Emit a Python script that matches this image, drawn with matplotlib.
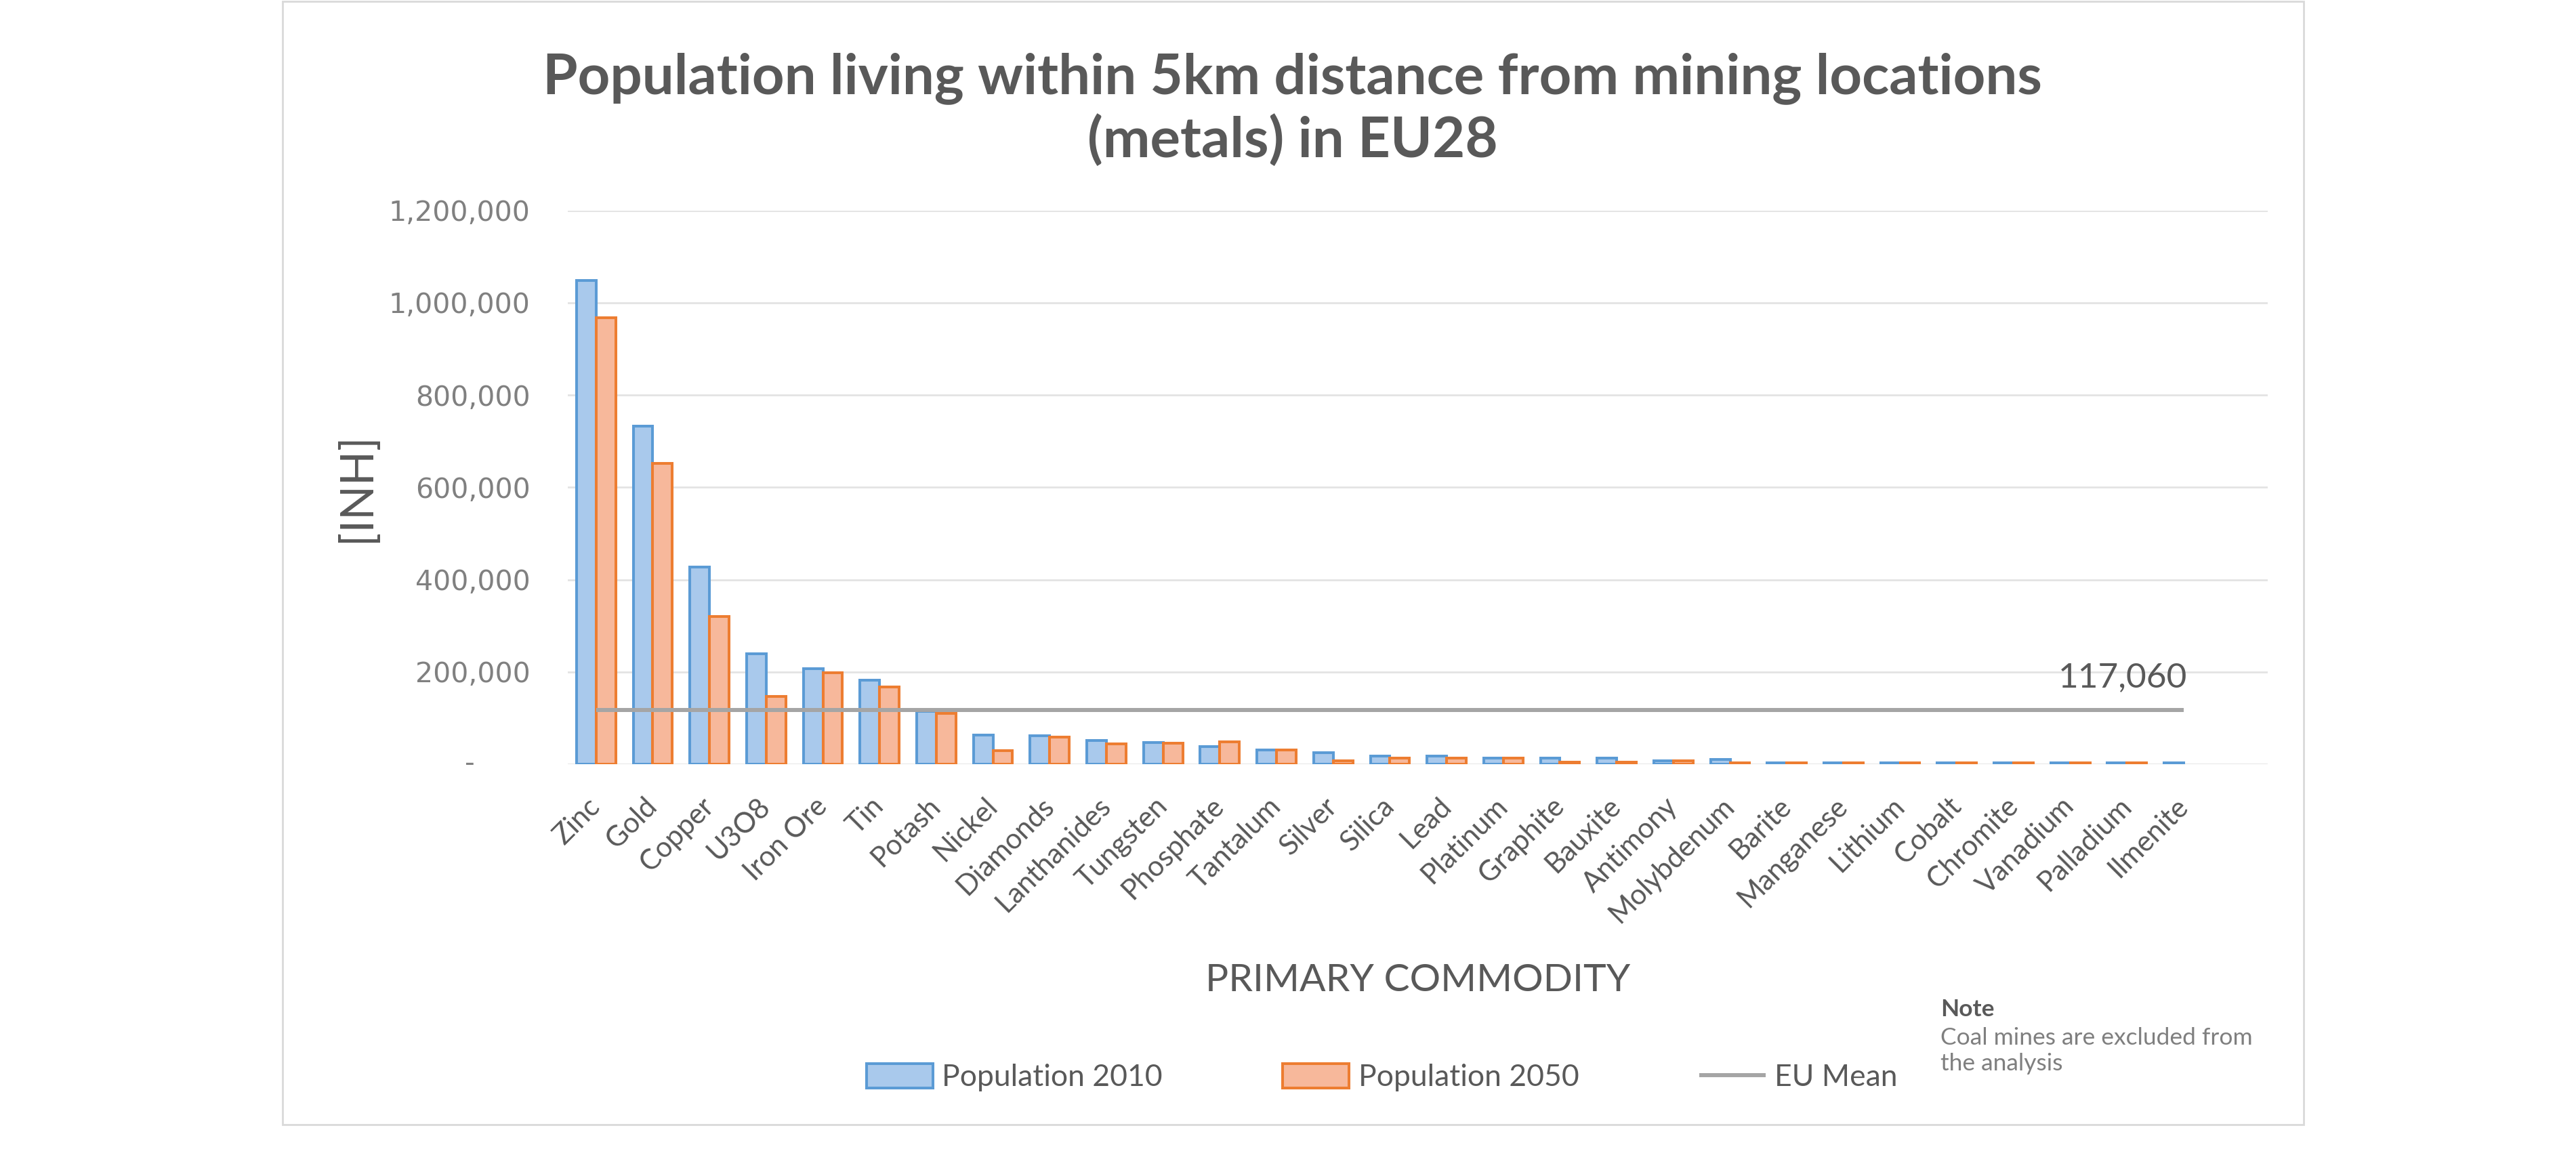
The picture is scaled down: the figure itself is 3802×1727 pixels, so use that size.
import matplotlib
matplotlib.use("Agg")
import matplotlib.pyplot as plt
import numpy as np
from matplotlib.patches import Rectangle
from matplotlib.ticker import FuncFormatter

categories = ["Zinc", "Gold", "Copper", "U3O8", "Iron Ore", "Tin", "Potash", "Nickel",
              "Diamonds", "Lanthanides", "Tungsten", "Phosphate", "Tantalum", "Silver",
              "Silica", "Lead", "Platinum", "Graphite", "Bauxite", "Antimony", "Molybdenum",
              "Barite", "Manganese", "Lithium", "Cobalt", "Chromite", "Vanadium", "Palladium",
              "Ilmenite"]
pop2010 = [1048000, 733000, 428000, 239000, 208000, 182000, 115000, 63000,
           62000, 52000, 48000, 38000, 31000, 25000,
           18000, 18000, 14000, 14000, 14000, 7000, 10000,
           4000, 4000, 4000, 4000, 4000, 4000, 4000,
           4000]
pop2050 = [968000, 652000, 320000, 147000, 198000, 168000, 111000, 29000,
           59000, 45000, 46000, 49000, 31000, 7000,
           14000, 14000, 14000, 5000, 5000, 8000, 3000,
           4000, 4000, 4000, 4000, 4000, 4000, 4000,
           0]
eu_mean = 117060
yticks = [0, 200000, 400000, 600000, 800000, 1000000, 1200000]

TXT = "#595959"
FONT = "Lato"

fig = plt.figure(figsize=(38.02, 17.27), dpi=100)
ax = fig.add_axes([0.2204, 0.3467, 0.6599, 0.4735])

x = np.arange(len(categories))
w = 0.345
v1 = np.array(pop2010, dtype=float)
v2 = np.array(pop2050, dtype=float)
v1 = np.where(v1 > 0, v1, np.nan)
v2 = np.where(v2 > 0, v2, np.nan)
b1 = ax.bar(x - w / 2, v1, w, color="#a9c9ec", edgecolor="#5b9bd5", linewidth=2.9,
            label="Population 2010", zorder=3)
b2 = ax.bar(x + w / 2, v2, w, color="#f7b89b", edgecolor="#ed7d31", linewidth=2.9,
            label="Population 2050", zorder=3)
ln, = ax.plot(x, [eu_mean] * len(x), color="#a5a5a5", lw=4.3, zorder=4,
              label="EU Mean", solid_capstyle="butt")

ax.annotate(f"{eu_mean:,.0f}", xy=(x[-1], eu_mean), xytext=(4, 18),
            textcoords="offset points", ha="right", va="bottom",
            fontsize=37, color=TXT, family=FONT)

ax.set_ylim(0, 1200000)
ax.set_xlim(-0.5, 29.48)
ax.set_yticks(yticks)
ax.yaxis.set_major_formatter(FuncFormatter(lambda v, p: "" if v == 0 else f"{int(v):,}"))
ax.grid(axis="y", color="#e3e3e3", lw=2)
ax.set_axisbelow(True)
for s in ax.spines.values():
    s.set_visible(False)
ax.tick_params(axis="y", length=0, pad=40, labelsize=29.5, labelcolor="#808080")
ax.tick_params(axis="x", length=0, pad=40)
# zero tick label in accounting style ("-" with trailing padding)
ax.text(-0.0546, yticks[0], "-", transform=ax.get_yaxis_transform(), ha="right",
        va="center", fontsize=29.5, color="#808080")
ax.set_xticks(x)
ax.set_xticklabels(categories, rotation=45, ha="right", va="center",
                   rotation_mode="anchor", fontsize=30, color=TXT, family=FONT)

ax.set_xlabel("PRIMARY COMMODITY", fontsize=41, color=TXT, family=FONT, va="center")
ax.xaxis.set_label_coords(0.5, -0.391)
ax.set_ylabel("[INH]", fontsize=48, color=TXT, family=FONT, va="center")
ax.yaxis.set_label_coords(-0.124, 0.5)

fig.text(0.5018, 1 - 162 / 1727,
         "Population living within 5km distance from mining locations\n(metals) in EU28",
         ha="center", va="center", fontsize=60, fontweight="bold", color=TXT,
         family=FONT, linespacing=1.22)

fig.legend(handles=[b1, b2, ln], loc="center", bbox_to_anchor=(0.5365, 0.0788),
           ncol=3, frameon=False, prop={"family": FONT, "size": 32},
           handlelength=2.2, handleheight=0.85, handletextpad=0.3, columnspacing=4,
           labelcolor=TXT)

fig.text(2864 / 3802, 1 - 1500 / 1727, "Note", ha="left", va="baseline",
         fontsize=25.5, fontweight="bold", color=TXT, family=FONT)
fig.text(2864 / 3802, 1 - 1580 / 1727, "Coal mines are excluded from\nthe analysis",
         ha="left", va="baseline", fontsize=25.5, color="#7f7f7f", family=FONT,
         linespacing=1.25)

fig.patches.append(Rectangle((417 / 3802, 1 - 1660 / 1727), (3400 - 417) / 3802,
                             1658 / 1727, transform=fig.transFigure, fill=False,
                             edgecolor="#d9d9d9", lw=2))

fig.savefig("out.png", dpi=100, facecolor="white")
